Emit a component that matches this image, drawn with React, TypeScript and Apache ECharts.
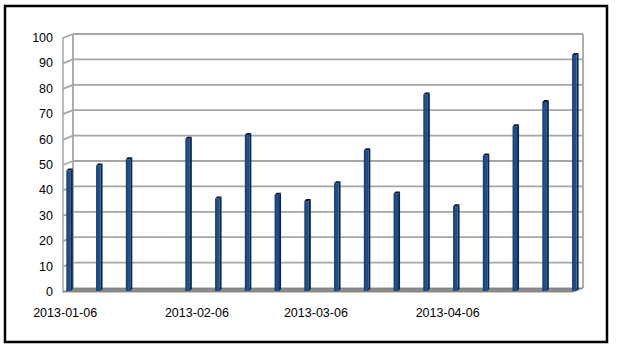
import React, { useEffect, useRef } from 'react';
import * as echarts from 'echarts';

// Weekly observations (2013-01-27 has no value)
const weekDates = [
  '2013-01-06', '2013-01-13', '2013-01-20', '2013-02-03', '2013-02-10', '2013-02-17',
  '2013-02-24', '2013-03-03', '2013-03-10', '2013-03-17', '2013-03-24', '2013-03-31',
  '2013-04-07', '2013-04-14', '2013-04-21', '2013-04-28', '2013-05-05',
];
const weekValues = [47, 49, 51.5, 59.5, 36, 61, 37.5, 35, 42, 55, 38, 77, 33, 53, 64.5, 74, 92.5];

const xLabelDates = ['2013-01-06', '2013-02-06', '2013-03-06', '2013-04-06'];
const yTicks = [0, 10, 20, 30, 40, 50, 60, 70, 80, 90, 100];
const axisStart = '2013-01-06';
const axisEnd = '2013-05-06';

const DAY = 86400000;
const utc = (s: string) => {
  const [y, m, d] = s.split('-').map(Number);
  return Date.UTC(y, m - 1, d);
};
const toDay = (s: string) => (utc(s) - utc(axisStart)) / DAY;
const pad = (n: number) => (n < 10 ? '0' + n : '' + n);
const fromDay = (n: number) => {
  const dt = new Date(utc(axisStart) + Math.floor(n) * DAY);
  return dt.getUTCFullYear() + '-' + pad(dt.getUTCMonth() + 1) + '-' + pad(dt.getUTCDate());
};

const DX = 10; // depth offset of back wall
const DY = -4;
const FONT = '"Liberation Sans", Arial, sans-serif';

export default function App() {
  const ref = useRef<HTMLDivElement>(null);
  useEffect(() => {
    if (!ref.current) return;
    const chart = echarts.init(ref.current, undefined, { renderer: 'svg' });
    const xMax = toDay(axisEnd);
    const yMax = yTicks[yTicks.length - 1];
    const gridColor = '#a6a6a6';

    chart.setOption({
      animation: false,
      backgroundColor: '#ffffff',
      grid: { left: 63, right: 47, top: 38, bottom: 58 },
      graphic: [
        {
          type: 'rect',
          shape: { x: 5, y: 6, width: 602, height: 336 },
          style: { fill: 'none', stroke: '#000', lineWidth: 2.5 },
          z: 100,
        },
      ],
      xAxis: {
        type: 'value',
        min: 0,
        max: xMax,
        axisLine: { show: false },
        axisTick: { show: false },
        splitLine: { show: false },
        axisLabel: {
          customValues: xLabelDates.map((d) => toDay(d) + 0.5),
          formatter: (v: number) => fromDay(v),
          margin: 14,
          fontSize: 12.5,
          color: '#000',
          fontFamily: FONT,
        },
      },
      yAxis: {
        type: 'value',
        min: 0,
        max: yMax,
        interval: 10,
        axisLine: { show: true, lineStyle: { color: gridColor, width: 1.5 } },
        axisTick: { show: false },
        splitLine: { show: false },
        axisLabel: { margin: 10, fontSize: 12.5, color: '#000', fontFamily: FONT },
      },
      series: [
        {
          type: 'custom',
          name: 'walls',
          silent: true,
          clip: false,
          z: 1,
          data: yTicks.map((t) => [0, t]),
          renderItem: (params: any, api: any) => {
            const t = api.value(1);
            const p = api.coord([0, t]);
            const q = api.coord([xMax, t]);
            const children: any[] = [];
            const ls = { stroke: gridColor, lineWidth: 1.8 };
            if (t === 0) {
              const top = api.coord([0, yMax]);
              const topR = api.coord([xMax, yMax]);
              children.push({
                type: 'line',
                shape: { x1: p[0] + DX, y1: p[1] + DY, x2: top[0] + DX, y2: top[1] + DY },
                style: ls,
              });
              children.push({
                type: 'line',
                shape: { x1: q[0] + DX, y1: q[1] + DY, x2: topR[0] + DX, y2: topR[1] + DY },
                style: ls,
              });
              children.push({
                type: 'polygon',
                shape: {
                  points: [
                    [p[0], p[1]],
                    [q[0], q[1]],
                    [q[0] + DX, q[1] + DY],
                    [p[0] + DX, p[1] + DY],
                  ],
                },
                style: { fill: '#8c8c8c', stroke: '#7a7a7a', lineWidth: 0.8 },
              });
            } else {
              children.push({
                type: 'line',
                shape: { x1: p[0] + DX, y1: p[1] + DY, x2: q[0] + DX, y2: q[1] + DY },
                style: ls,
              });
              children.push({
                type: 'line',
                shape: { x1: p[0], y1: p[1], x2: p[0] + DX, y2: p[1] + DY },
                style: ls,
              });
            }
            return { type: 'group', children };
          },
        },
        {
          type: 'custom',
          name: 'value',
          clip: false,
          z: 2,
          data: weekDates.map((d, i) => [toDay(d) + 0.5, weekValues[i]]),
          renderItem: (params: any, api: any) => {
            const x = api.value(0);
            const v = api.value(1);
            const top = api.coord([x, v]);
            const base = api.coord([x, 0]);
            const cx = top[0] + DX / 2;
            const ty = top[1] + DY / 2;
            const by = base[1] + DY / 2 + 1;
            const l = cx - 3.8;
            const r = cx + 0.7;
            const sx = 2;
            const sy = -2;
            return {
              type: 'group',
              children: [
                {
                  type: 'polygon',
                  shape: { points: [[r, ty], [r + sx, ty + sy], [r + sx, by + sy], [r, by]] },
                  style: { fill: '#0c2647' },
                },
                {
                  type: 'polygon',
                  shape: { points: [[l, ty], [r, ty], [r, by], [l, by]] },
                  style: {
                    fill: new echarts.graphic.LinearGradient(0, 0, 1, 0, [
                      { offset: 0, color: '#143766' },
                      { offset: 0.5, color: '#1f5192' },
                      { offset: 1, color: '#1a4782' },
                    ]),
                  },
                },
                {
                  type: 'polygon',
                  shape: { points: [[l, ty], [r, ty], [r + sx, ty + sy], [l + sx, ty + sy]] },
                  style: { fill: '#08152a' },
                },
              ],
            };
          },
        },
      ],
    });
    return () => chart.dispose();
  }, []);
  return (
    <div
      ref={ref}
      style={{ position: 'fixed', left: 0, top: 0, width: 620, height: 350, background: '#fff' }}
    />
  );
}
